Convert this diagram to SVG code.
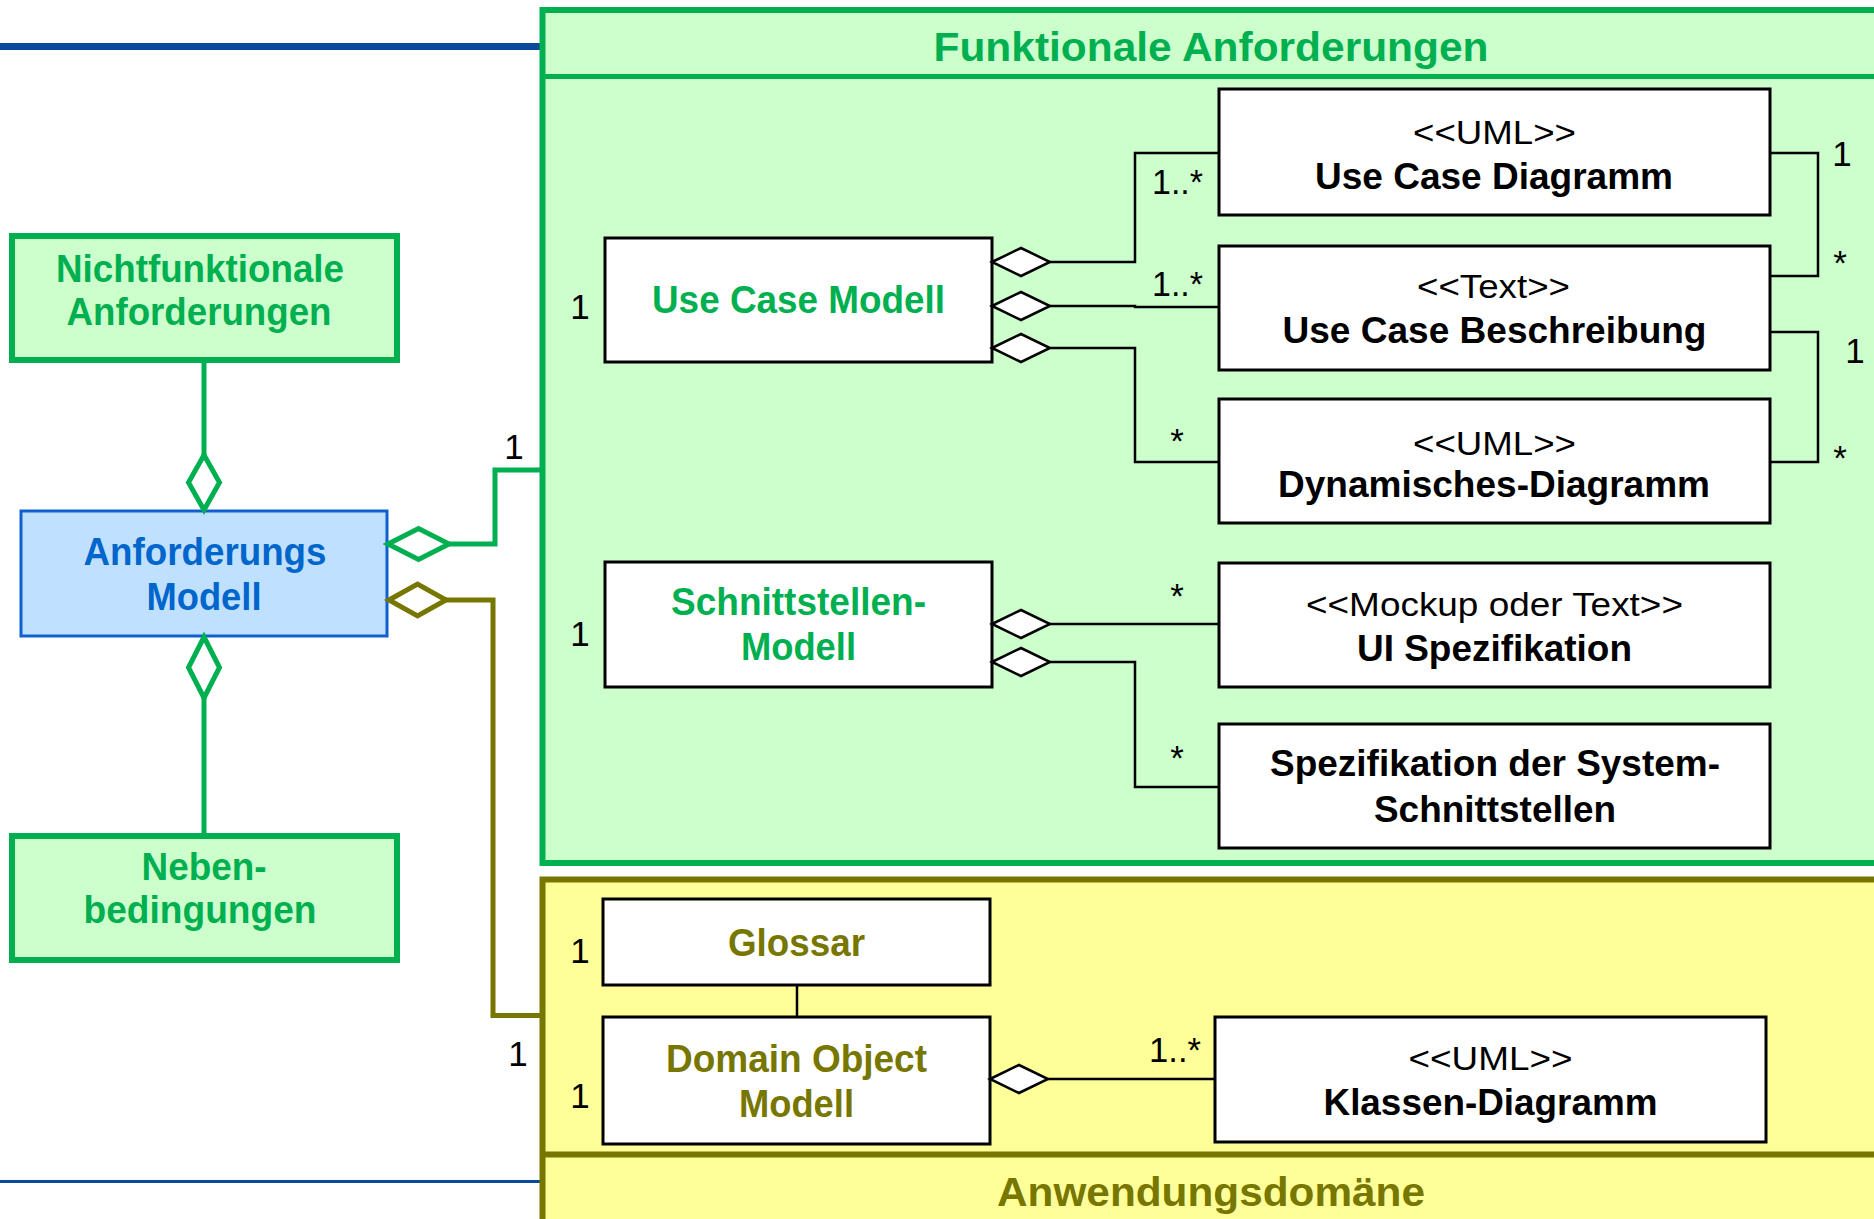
<svg xmlns="http://www.w3.org/2000/svg" xmlns:xlink="http://www.w3.org/1999/xlink" width="1874" height="1219" viewBox="0 0 1874 1219">
  <style>
    .bold { font-family: "Liberation Sans", Arial, sans-serif; font-weight: bold; }
    .reg { font-family: "Liberation Sans", Arial, sans-serif; }
    .c { text-anchor: middle; }
    .lbl { font-family: "Liberation Sans", Arial, sans-serif; font-size: 35px; fill: #000; }
    .title { font-size: 41px; }
    .outer { font-size: 38px; }
    .name { font-size: 37px; fill: #000; }
    .stereo { font-size: 33px; fill: #000; }
    .green-t { fill: #00B050; }
    .olive-t { fill: #777700; }
    .blue-t { fill: #0066CC; }
    .gbox { fill: #CCFFCC; stroke: #00B050; stroke-width: 6; }
    .wbox { fill: #FFFFFF; stroke: #000; stroke-width: 3; }
    .ln { fill: none; stroke: #000; stroke-width: 2.5; }
    .gln { fill: none; stroke: #00B050; stroke-width: 5; }
    .oln { fill: none; stroke: #777700; stroke-width: 5; }
    .dia { fill: #FFFFFF; stroke: #000; stroke-width: 2.5; }
  </style>
  <defs>
    <!-- hollow aggregation diamond, tip at origin pointing left -->
    <path id="diaH" d="M0,0 L29,-14 L58,0 L29,14 Z"/>
  </defs>

  <rect width="1874" height="1219" fill="#FFFFFF"/>

  <!-- slide rules -->
  <line x1="0" y1="46.5" x2="540" y2="46.5" stroke="#0A4A9A" stroke-width="7"/>
  <line x1="0" y1="1181.5" x2="540" y2="1181.5" stroke="#0A4A9A" stroke-width="3"/>

  <!-- package: Funktionale Anforderungen -->
  <g id="pkg-funktional">
    <rect x="542.5" y="10" width="1345" height="853" fill="#CCFFCC" stroke="#00B050" stroke-width="6"/>
    <line x1="542.5" y1="76.5" x2="1880" y2="76.5" stroke="#00B050" stroke-width="5"/>
    <text class="bold title green-t c" x="1211" y="61" textLength="555" lengthAdjust="spacingAndGlyphs">Funktionale Anforderungen</text>
  </g>

  <!-- package: Anwendungsdomäne -->
  <g id="pkg-domaene">
    <rect x="542.5" y="879.5" width="1345" height="360" fill="#FFFF99" stroke="#777700" stroke-width="6"/>
    <line x1="542.5" y1="1154.5" x2="1880" y2="1154.5" stroke="#777700" stroke-width="6"/>
    <text class="bold title olive-t c" x="1211" y="1206" textLength="428" lengthAdjust="spacingAndGlyphs">Anwendungsdomäne</text>
  </g>

  <!-- left column -->
  <g id="nichtfunktional">
    <rect class="gbox" x="12" y="236" width="385" height="124"/>
    <text class="bold outer green-t c" x="200" y="282" textLength="288" lengthAdjust="spacingAndGlyphs">Nichtfunktionale</text>
    <text class="bold outer green-t c" x="199" y="325" textLength="265" lengthAdjust="spacingAndGlyphs">Anforderungen</text>
  </g>

  <g id="anforderungsmodell">
    <rect x="21" y="511" width="366" height="125" fill="#C0E0FF" stroke="#1060D0" stroke-width="3"/>
    <text class="bold outer blue-t c" x="205" y="565" textLength="243" lengthAdjust="spacingAndGlyphs">Anforderungs</text>
    <text class="bold outer blue-t c" x="204" y="610" textLength="115" lengthAdjust="spacingAndGlyphs">Modell</text>
  </g>

  <g id="nebenbedingungen">
    <rect class="gbox" x="12" y="836" width="385" height="124"/>
    <text class="bold outer green-t c" x="204" y="880" textLength="125" lengthAdjust="spacingAndGlyphs">Neben-</text>
    <text class="bold outer green-t c" x="200" y="923" textLength="233" lengthAdjust="spacingAndGlyphs">bedingungen</text>
  </g>

  <!-- functional requirement models -->
  <g id="usecase-modell">
    <rect class="wbox" x="605" y="238" width="387" height="124"/>
    <text class="bold outer green-t c" x="798.5" y="313" textLength="293" lengthAdjust="spacingAndGlyphs">Use Case Modell</text>
  </g>

  <g id="usecase-diagramm">
    <rect class="wbox" x="1219" y="89" width="551" height="126"/>
    <text class="reg stereo c" x="1494.5" y="144" textLength="163" lengthAdjust="spacingAndGlyphs">&lt;&lt;UML&gt;&gt;</text>
    <text class="bold name c" x="1494" y="189" textLength="358" lengthAdjust="spacingAndGlyphs">Use Case Diagramm</text>
  </g>

  <g id="usecase-beschreibung">
    <rect class="wbox" x="1219" y="246" width="551" height="124"/>
    <text class="reg stereo c" x="1493.5" y="298" textLength="153" lengthAdjust="spacingAndGlyphs">&lt;&lt;Text&gt;&gt;</text>
    <text class="bold name c" x="1494.5" y="343" textLength="424" lengthAdjust="spacingAndGlyphs">Use Case Beschreibung</text>
  </g>

  <g id="dynamisches-diagramm">
    <rect class="wbox" x="1219" y="399" width="551" height="124"/>
    <text class="reg stereo c" x="1494.5" y="455" textLength="163" lengthAdjust="spacingAndGlyphs">&lt;&lt;UML&gt;&gt;</text>
    <text class="bold name c" x="1494" y="497" textLength="432" lengthAdjust="spacingAndGlyphs">Dynamisches-Diagramm</text>
  </g>

  <g id="schnittstellen-modell">
    <rect class="wbox" x="605" y="562" width="387" height="125"/>
    <text class="bold outer green-t c" x="798.5" y="615" textLength="255" lengthAdjust="spacingAndGlyphs">Schnittstellen-</text>
    <text class="bold outer green-t c" x="798.5" y="660" textLength="115" lengthAdjust="spacingAndGlyphs">Modell</text>
  </g>

  <g id="ui-spezifikation">
    <rect class="wbox" x="1219" y="563" width="551" height="124"/>
    <text class="reg stereo c" x="1494.5" y="616" textLength="377" lengthAdjust="spacingAndGlyphs">&lt;&lt;Mockup oder Text&gt;&gt;</text>
    <text class="bold name c" x="1494.5" y="661" textLength="275" lengthAdjust="spacingAndGlyphs">UI Spezifikation</text>
  </g>

  <g id="system-schnittstellen">
    <rect class="wbox" x="1219" y="724" width="551" height="124"/>
    <text class="bold name c" x="1495" y="776" textLength="450" lengthAdjust="spacingAndGlyphs">Spezifikation der System-</text>
    <text class="bold name c" x="1495" y="822" textLength="242" lengthAdjust="spacingAndGlyphs">Schnittstellen</text>
  </g>

  <!-- application domain models -->
  <g id="glossar">
    <rect class="wbox" x="603" y="899" width="387" height="86"/>
    <text class="bold outer olive-t c" x="796.5" y="956" textLength="137" lengthAdjust="spacingAndGlyphs">Glossar</text>
  </g>

  <g id="domain-object-modell">
    <rect class="wbox" x="603" y="1017" width="387" height="127"/>
    <text class="bold outer olive-t c" x="796.5" y="1072" textLength="261" lengthAdjust="spacingAndGlyphs">Domain Object</text>
    <text class="bold outer olive-t c" x="796.5" y="1117" textLength="115" lengthAdjust="spacingAndGlyphs">Modell</text>
  </g>

  <g id="klassen-diagramm">
    <rect class="wbox" x="1215" y="1017" width="551" height="125"/>
    <text class="reg stereo c" x="1490.5" y="1070" textLength="164" lengthAdjust="spacingAndGlyphs">&lt;&lt;UML&gt;&gt;</text>
    <text class="bold name c" x="1490.5" y="1115" textLength="334" lengthAdjust="spacingAndGlyphs">Klassen-Diagramm</text>
  </g>

  <!-- connectors -->
  <g id="connectors">
    <!-- Anforderungs Modell aggregations -->
    <path class="gln" d="M204,360 V455"/>
    <path class="gln" d="M204,455 L219.5,482.5 L204,510 L188.5,482.5 Z" fill="#FFFFFF"/>
    <path class="gln" d="M204,637 L219.5,667.5 L204,698 L188.5,667.5 Z" fill="#FFFFFF"/>
    <path class="gln" d="M204,698 V836"/>
    <path class="gln" d="M388,544 L418.5,528.5 L449,544 L418.5,559.5 Z" fill="#FFFFFF"/>
    <path class="gln" d="M449,544 H495 V470 H542"/>
    <path class="oln" d="M389,600 L417.5,584 L446,600 L417.5,616 Z" fill="#FFFFFF"/>
    <path class="oln" d="M446,600 H493 V1015.5 H542"/>

    <!-- Use Case Modell parts -->
    <path class="ln" d="M1050,262 H1135 V153 H1219"/>
    <path class="ln" d="M1050,306 H1135 V307 H1219"/>
    <path class="ln" d="M1050,348 H1135 V462 H1219"/>
    <use href="#diaH" xlink:href="#diaH" class="dia" x="992" y="262"/>
    <use href="#diaH" xlink:href="#diaH" class="dia" x="992" y="306"/>
    <use href="#diaH" xlink:href="#diaH" class="dia" x="992" y="348"/>

    <!-- associations between use case artefacts -->
    <path class="ln" d="M1770,153 H1818 V276 H1770"/>
    <path class="ln" d="M1770,332 H1818 V462 H1770"/>

    <!-- Schnittstellen-Modell parts -->
    <path class="ln" d="M1050,624 H1219"/>
    <path class="ln" d="M1050,662 H1135 V787 H1219"/>
    <use href="#diaH" xlink:href="#diaH" class="dia" x="992" y="624"/>
    <use href="#diaH" xlink:href="#diaH" class="dia" x="992" y="662"/>

    <!-- domain models -->
    <path class="ln" d="M797,985 V1017"/>
    <path class="ln" d="M1048,1079 H1215"/>
    <use href="#diaH" xlink:href="#diaH" class="dia" x="990" y="1079"/>

    <!-- multiplicities -->
    <text class="lbl" x="514" y="459" text-anchor="middle">1</text>
    <text class="lbl" x="518" y="1066" text-anchor="middle">1</text>
    <text class="lbl" x="580" y="319" text-anchor="middle">1</text>
    <text class="lbl" x="580" y="646" text-anchor="middle">1</text>
    <text class="lbl" x="580" y="963" text-anchor="middle">1</text>
    <text class="lbl" x="580" y="1108" text-anchor="middle">1</text>
    <text class="lbl" x="1152" y="194" textLength="51" lengthAdjust="spacingAndGlyphs">1..*</text>
    <text class="lbl" x="1152" y="296" textLength="51" lengthAdjust="spacingAndGlyphs">1..*</text>
    <text class="lbl" x="1177" y="453" text-anchor="middle">*</text>
    <text class="lbl" x="1177" y="608" text-anchor="middle">*</text>
    <text class="lbl" x="1177" y="770" text-anchor="middle">*</text>
    <text class="lbl" x="1149" y="1062" textLength="52" lengthAdjust="spacingAndGlyphs">1..*</text>
    <text class="lbl" x="1842" y="166" text-anchor="middle">1</text>
    <text class="lbl" x="1840" y="275" text-anchor="middle">*</text>
    <text class="lbl" x="1855" y="363" text-anchor="middle">1</text>
    <text class="lbl" x="1840" y="470" text-anchor="middle">*</text>
  </g>
</svg>
